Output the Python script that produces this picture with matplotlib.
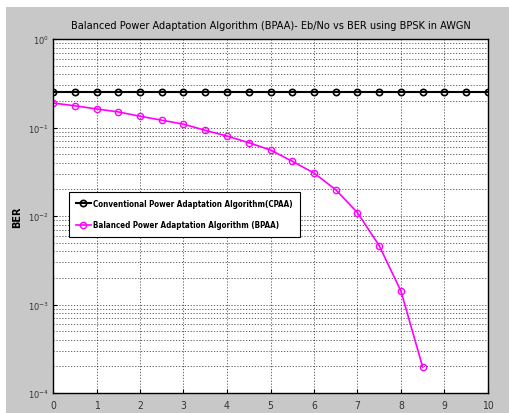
import matplotlib
matplotlib.use("Agg")
import matplotlib.pyplot as plt
from matplotlib.patches import Rectangle

# Eb/No values (dB)
ebno_cpaa = [0, 0.5, 1, 1.5, 2, 2.5, 3, 3.5, 4, 4.5, 5, 5.5, 6, 6.5, 7, 7.5, 8, 8.5, 9, 9.5, 10]
ber_cpaa = [0.25] * 21

ebno_bpaa = [0, 0.5, 1, 1.5, 2, 2.5, 3, 3.5, 4, 4.5, 5, 5.5, 6, 6.5, 7, 7.5, 8, 8.5]
ber_bpaa = [0.189, 0.176, 0.162, 0.150, 0.134, 0.121, 0.109, 0.0929, 0.0801, 0.0673,
            0.0557, 0.0415, 0.0306, 0.0198, 0.0109, 0.00461, 0.00141, 0.000195]

labels = ["Conventional Power Adaptation Algorithm(CPAA)",
          "Balanced Power Adaptation Algorithm (BPAA)"]
title = "Balanced Power Adaptation Algorithm (BPAA)- Eb/No vs BER using BPSK in AWGN"

cond = dict(family="DejaVu Sans", stretch="condensed")

fig = plt.figure(figsize=(5.10, 4.14), dpi=100, facecolor="#c8c8c8")
# white strips at top and left, like the captured window
fig.patches.append(Rectangle((0, 1 - 8 / 414), 1, 8 / 414, transform=fig.transFigure,
                             facecolor="white", edgecolor="none", zorder=-10))
fig.patches.append(Rectangle((0, 0), 6 / 510, 1, transform=fig.transFigure,
                             facecolor="white", edgecolor="none", zorder=-10))

ax = fig.add_axes([53 / 510, 1 - 394 / 414, 435 / 510, 354 / 414])
ax.set_facecolor("white")

ax.semilogy(ebno_cpaa, ber_cpaa, color="black", lw=1.5, marker="o", ms=4.5,
            mfc="none", mew=1.2, label=labels[0])
ax.semilogy(ebno_bpaa, ber_bpaa, color="#ff00ff", lw=1.2, marker="o", ms=4.5,
            mfc="none", mew=1.0, label=labels[1])

ax.set_xlim(0, 10)
ax.set_ylim(1e-4, 1)
ax.set_xticks(range(0, 11))
ax.set_yticks([1e-4, 1e-3, 1e-2, 1e-1, 1])
ax.set_yticklabels([r"$10^{-4}$", r"$10^{-3}$", r"$10^{-2}$", r"$10^{-1}$", r"$10^{0}$"])
ax.tick_params(axis="both", which="both", direction="in", length=3, labelcolor="#333333")
ax.tick_params(axis="y", which="major", labelsize=6, pad=3)
ax.tick_params(axis="y", which="minor", length=0)
ax.tick_params(axis="x", pad=5, labelsize=7.5)
for lab in ax.get_xticklabels():
    lab.set_fontfamily("DejaVu Sans")
    lab.set_fontstretch("condensed")

ax.grid(True, which="major", axis="both", color="black", ls=(0, (1.5, 2)), lw=0.6, alpha=0.7)
ax.grid(True, which="minor", axis="y", color="black", ls=(0, (1.5, 2)), lw=0.6, alpha=0.7)
for s in ax.spines.values():
    s.set_linewidth(1.0)

ax.set_ylabel("BER", fontsize=7, fontweight="bold", labelpad=4)
ax.set_title(title, fontsize=7.8, pad=8, **cond)

leg = ax.legend(loc="upper left", bbox_to_anchor=(69 / 510, 1 - 193 / 414),
                bbox_transform=fig.transFigure, borderaxespad=0, fancybox=False,
                edgecolor="black", framealpha=1, handlelength=1.8, handletextpad=0.3,
                prop={"family": "DejaVu Sans", "stretch": "condensed", "size": 5.8,
                      "weight": "bold"},
                labelspacing=1.5, borderpad=0.9)
leg.get_frame().set_linewidth(0.8)

fig.savefig("out.png", dpi=100, facecolor=fig.get_facecolor())
